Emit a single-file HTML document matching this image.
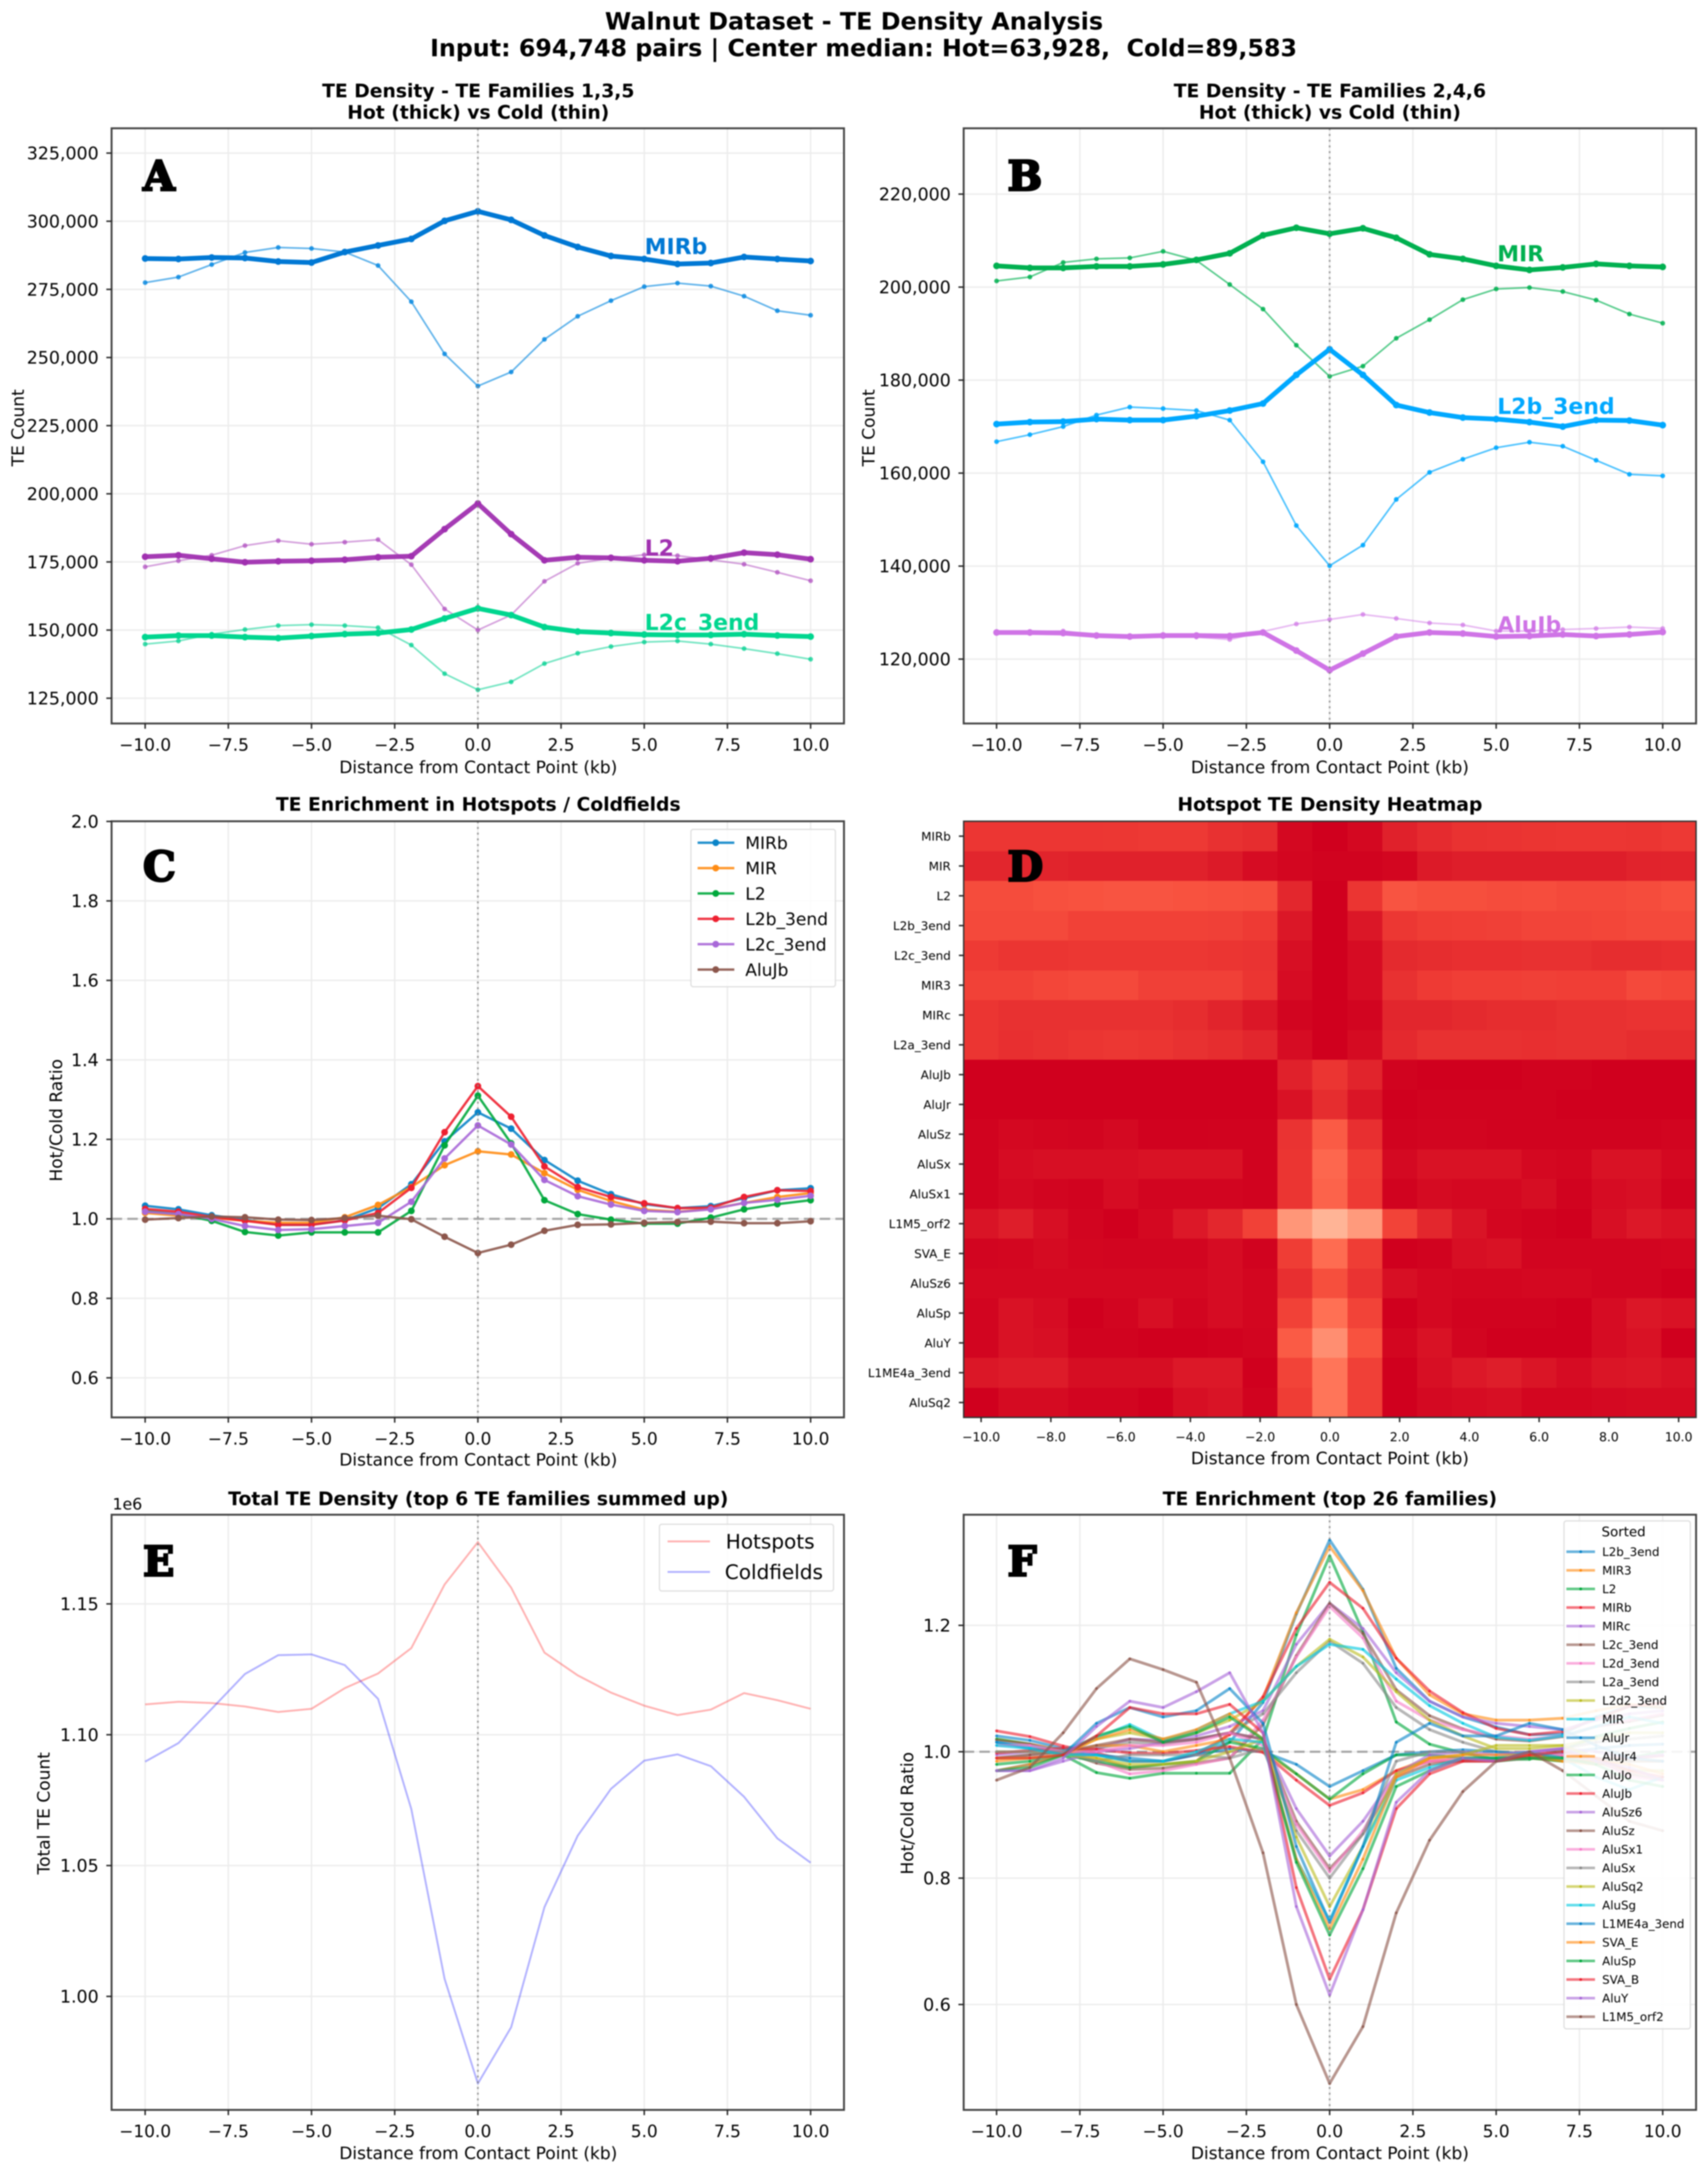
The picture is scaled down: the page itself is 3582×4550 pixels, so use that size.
<!DOCTYPE html>
<html lang="en">
<head>
<meta charset="utf-8">
<title>Walnut Dataset - TE Density Analysis</title>
<style>
html,body{margin:0;padding:0;background:#fff;}
#figure{display:block;width:3582px;height:4550px;filter:blur(1.4px);font-family:"DejaVu Sans","Liberation Sans",sans-serif;fill:#000;}
.sup{font-size:50px;font-weight:bold;text-anchor:middle;}
.ttl{font-size:39.3px;font-weight:bold;text-anchor:middle;}
.lbl{font-size:35.7px;text-anchor:middle;}
.let{font-family:"DejaVu Serif","Liberation Serif",serif;font-weight:bold;font-size:86px;stroke:#000;stroke-width:4.5px;}
.anno{font-size:46px;font-weight:bold;}
</style>
</head>
<body>
<svg id="figure" xmlns="http://www.w3.org/2000/svg" width="3582" height="4550" viewBox="0 0 3582 4550">
  <rect x="0" y="0" width="3582" height="4550" fill="#fff"/>
  <text class="sup" x="1791" y="62">Walnut Dataset - TE Density Analysis</text>
  <text class="sup" x="1811" y="118" font-size="49.8" style="font-size:49.8px" xml:space="preserve">Input: 694,748 pairs | Center median: Hot=63,928,  Cold=89,583</text>

  <g id="layer-a"></g>
  <g id="layer-b"></g>
  <g id="layer-c"></g>
  <g id="layer-d"></g>
  <g id="layer-e"></g>
  <g id="layer-f"></g>

  <text class="ttl" x="1003" y="204">TE Density - TE Families 1,3,5</text>
  <text class="ttl" x="1003" y="249">Hot (thick) vs Cold (thin)</text>
  <text class="ttl" x="2789" y="204">TE Density - TE Families 2,4,6</text>
  <text class="ttl" x="2789" y="249">Hot (thick) vs Cold (thin)</text>
  <text class="ttl" x="1003" y="1700">TE Enrichment in Hotspots / Coldfields</text>
  <text class="ttl" x="2789" y="1700">Hotspot TE Density Heatmap</text>
  <text class="ttl" x="1003" y="3156">Total TE Density (top 6 TE families summed up)</text>
  <text class="ttl" x="2789" y="3156">TE Enrichment (top 26 families)</text>

  <text class="lbl" x="1003" y="1621">Distance from Contact Point (kb)</text>
  <text class="lbl" x="2789" y="1621">Distance from Contact Point (kb)</text>
  <text class="lbl" x="1003" y="3073">Distance from Contact Point (kb)</text>
  <text class="lbl" x="2789" y="3070">Distance from Contact Point (kb)</text>
  <text class="lbl" x="1003" y="4527">Distance from Contact Point (kb)</text>
  <text class="lbl" x="2789" y="4527">Distance from Contact Point (kb)</text>

  <text class="lbl" transform="translate(50,897) rotate(-90)">TE Count</text>
  <text class="lbl" transform="translate(1834,897) rotate(-90)">TE Count</text>
  <text class="lbl" transform="translate(130,2349) rotate(-90)">Hot/Cold Ratio</text>
  <text class="lbl" transform="translate(104,3802) rotate(-90)">Total TE Count</text>
  <text class="lbl" transform="translate(1915,3802) rotate(-90)">Hot/Cold Ratio</text>
  <text x="236" y="3165" font-size="33">1e6</text>

  <text class="anno" x="1352" y="533" fill="#0078d4">MIRb</text>
  <text class="anno" x="1352" y="1165" fill="#a030b0">L2</text>
  <text class="anno" x="1352" y="1321" fill="#00d68f">L2c_3end</text>
  <text class="anno" x="3140" y="548" fill="#00b050">MIR</text>
  <text class="anno" x="3140" y="868" fill="#00a8ff">L2b_3end</text>
  <text class="anno" x="3140" y="1326" fill="#cf74e6">AluJb</text>

  <text class="let" x="300" y="399">A</text>
  <text class="let" x="2113" y="399">B</text>
  <text class="let" x="300" y="1847">C</text>
  <text class="let" x="2113" y="1847">D</text>
  <text class="let" x="300" y="3304">E</text>
  <text class="let" x="2113" y="3304">F</text>
</svg>

<script>
// ---------- shared categories ----------
const distanceKb = [-10,-9,-8,-7,-6,-5,-4,-3,-2,-1,0,1,2,3,4,5,6,7,8,9,10];
const lineXTicks = [-10,-7.5,-5,-2.5,0,2.5,5,7.5,10];
const heatXTicks = [-10,-8,-6,-4,-2,0,2,4,6,8,10];

// ---------- panel A ----------
const aYTicks = [125000,150000,175000,200000,225000,250000,275000,300000,325000];
const mirbHot = [286320,286140,286690,286500,285210,284840,288700,291100,293500,300130,303630,300500,294790,290550,287240,286140,284300,284660,286870,286140,285400];
const mirbCold = [277480,279500,284100,288530,290370,290000,288700,283740,270480,251320,239530,244690,256660,265130,270850,276000,277300,276190,272500,267160,265500];
const l2Hot = [176900,177450,176170,174880,175250,175430,175800,176720,177100,187030,196430,185200,175600,176700,176500,175600,175250,176350,178400,177650,176000];
const l2Cold = [173200,175430,177450,181000,182800,181500,182250,183170,174000,157750,150000,155530,167880,174500,176350,177600,177300,175800,174150,171200,168100];
const l2cHot = [147420,147980,147980,147420,147050,147800,148520,148900,150200,154250,157950,155500,151100,149450,148900,148350,148200,148200,148500,148000,147600];
const l2cCold = [144850,146000,148500,150200,151650,152000,151650,150900,144500,134000,128100,131000,137700,141500,143950,145600,146000,144850,143200,141350,139300];

// ---------- panel B ----------
const bYTicks = [120000,140000,160000,180000,200000,220000];
const mirHot = [204560,204120,204120,204450,204450,204880,205850,207260,211140,212760,211470,212650,210600,207040,206070,204560,203690,204230,205000,204560,204340];
const mirCold = [201320,202180,205300,206070,206280,207690,205750,200560,195270,187500,180800,183000,189000,193000,197300,199600,199900,199050,197200,194200,192240];
const l2bHot = [170540,170970,171080,171620,171400,171400,172260,173450,174960,181120,186630,181120,174640,173020,171940,171620,170970,170000,171400,171300,170320];
const l2bCold = [166760,168270,170000,172480,174200,173880,173450,171400,162440,148720,140080,144510,154340,160170,162980,165460,166650,165780,162760,159740,159410];
const alujbHot = [125720,125720,125600,125070,124850,125070,125070,124960,125720,121830,117620,121180,124850,125720,125500,124850,124960,125290,124960,125290,125820];
const alujbCold = [125930,125930,126040,125180,124850,125290,124750,124200,125930,127550,128520,129600,128740,127770,127340,126040,126040,126360,126580,126900,126580];

// ---------- panel C ----------
const cYTicks = [0.6,0.8,1.0,1.2,1.4,1.6,1.8,2.0];
const ratioMIRb = [1.033,1.024,1.009,0.998,0.985,0.985,0.996,1.027,1.087,1.195,1.268,1.227,1.148,1.096,1.062,1.037,1.027,1.032,1.052,1.072,1.077];
const ratioMIR = [1.015,1.008,1.003,0.995,0.99,0.99,1.004,1.035,1.08,1.135,1.17,1.162,1.115,1.073,1.045,1.023,1.018,1.025,1.04,1.055,1.065];
const ratioL2 = [1.02,1.012,0.995,0.967,0.958,0.966,0.966,0.966,1.02,1.185,1.31,1.19,1.047,1.012,0.998,0.988,0.988,1.003,1.024,1.037,1.047];
const ratioL2b = [1.025,1.018,1.005,0.995,0.985,0.985,0.996,1.015,1.078,1.218,1.334,1.257,1.132,1.08,1.055,1.039,1.027,1.028,1.055,1.072,1.07];
const ratioL2c = [1.018,1.012,1.0,0.982,0.972,0.974,0.982,0.99,1.043,1.152,1.235,1.187,1.098,1.057,1.036,1.02,1.017,1.024,1.04,1.048,1.058];
const ratioAluJb = [0.998,1.002,1.006,1.004,0.998,0.997,1.002,1.008,0.999,0.955,0.914,0.935,0.97,0.985,0.986,0.99,0.992,0.993,0.989,0.989,0.994];

// ---------- panel D ----------
const heatRowLabels = ['MIRb','MIR','L2','L2b_3end','L2c_3end','MIR3','MIRc','L2a_3end','AluJb','AluJr','AluSz','AluSx','AluSx1','L1M5_orf2','SVA_E','AluSz6','AluSp','AluY','L1ME4a_3end','AluSq2'];
const heatValues = [
 [.37,.37,.37,.37,.38,.39,.39,.33,.30,.05,0,.05,.22,.29,.34,.35,.36,.37,.37,.36,.39],
 [.25,.25,.24,.22,.22,.22,.22,.17,.08,.04,.02,.02,.04,.17,.2,.2,.2,.2,.2,.23,.24],
 [.52,.52,.55,.56,.57,.57,.56,.55,.54,.26,0,.36,.57,.54,.54,.52,.53,.5,.5,.52,.55],
 [.50,.50,.50,.45,.45,.45,.45,.44,.40,.15,0,.15,.38,.42,.43,.44,.47,.47,.48,.5,.5],
 [.40,.36,.36,.38,.38,.38,.38,.36,.35,.1,0,.08,.28,.3,.32,.32,.33,.33,.3,.3,.32],
 [.45,.45,.48,.50,.50,.44,.44,.44,.36,.08,0,.08,.33,.4,.43,.43,.44,.43,.43,.5,.48],
 [.36,.33,.33,.33,.33,.33,.3,.24,.15,.03,0,.03,.25,.25,.28,.3,.3,.33,.33,.35,.35],
 [.36,.32,.34,.36,.38,.36,.33,.3,.25,.08,0,.07,.27,.33,.33,.33,.32,.33,.33,.3,.3],
 [0,0,0,0,0,0,0,0,0,.22,.36,.24,.02,0,0,0,.02,.02,0,0,0],
 [0,0,0,0,0,0,0,0,0,.12,.3,.14,0,.02,.02,.02,.02,0,0,0,0],
 [.02,.05,.04,.03,.06,.01,.01,.02,.02,.35,.6,.32,.02,.03,.03,.02,.02,.02,.02,.02,.03],
 [.02,.08,.1,.1,.1,.12,.12,.12,.02,.36,.66,.42,.06,.12,.12,.12,.05,.04,.12,.12,.05],
 [.02,.06,.03,.02,.08,.03,.03,.03,.02,.36,.64,.4,.02,.07,.05,.05,.09,.02,.08,.1,.02],
 [.13,.2,.1,.03,0,.05,.16,.26,.45,.85,1,.87,.46,.26,.13,.04,.02,0,.1,.16,.12],
 [.03,.04,.07,.04,.03,.03,.03,.08,.02,.42,.68,.42,0,.02,.1,.12,.03,.03,.03,.03,.04],
 [.05,.05,.05,.05,.05,.05,.05,.08,.04,.32,.54,.35,.1,.05,.04,.04,.05,.05,.03,.03,0],
 [.03,.12,.08,0,.03,.1,.03,.08,.04,.45,.7,.46,0,.05,.02,.02,.02,0,.08,.15,.12],
 [.03,.12,.1,.02,.02,0,0,.01,.03,.6,.82,.56,.04,.12,.03,0,0,0,.08,.12,0],
 [.15,.18,.18,.09,.09,.09,.16,.16,0,.46,.72,.44,0,.1,.16,.2,.14,.08,.14,.15,.11],
 [0,.07,.07,.03,.03,0,.1,.13,.02,.42,.72,.44,0,.06,.08,.1,.04,.04,.06,.07,.07]
];

// ---------- panel E ----------
const eYTicks = [1.00,1.05,1.10,1.15];
const totalHot = [1.1116,1.1126,1.1121,1.1108,1.1087,1.1099,1.1178,1.1234,1.1331,1.1574,1.1736,1.1562,1.1314,1.1227,1.1161,1.1111,1.1075,1.1096,1.1159,1.1132,1.1099];
const totalCold = [1.0897,1.0968,1.1099,1.1232,1.1304,1.1307,1.1266,1.1137,1.0716,1.0067,0.9667,0.9882,1.0341,1.0614,1.0793,1.0901,1.0925,1.0880,1.0763,1.0604,1.0511];

// ---------- panel F ----------
const fYTicks = [0.6,0.8,1.0,1.2];
const fL2b = [1.025,1.018,1.005,0.995,0.985,0.985,0.996,1.015,1.078,1.218,1.335,1.257,1.132,1.08,1.055,1.039,1.027,1.028,1.055,1.072,1.07];
const fMIR3 = [1.02,1.012,1.002,0.99,0.975,0.98,0.985,1.03,1.085,1.22,1.325,1.255,1.148,1.09,1.06,1.05,1.05,1.053,1.065,1.075,1.07];
const fL2 = [1.02,1.012,0.995,0.967,0.958,0.966,0.966,0.966,1.02,1.185,1.31,1.19,1.047,1.012,0.998,0.988,0.988,1.003,1.024,1.037,1.047];
const fMIRb = [1.033,1.024,1.009,0.998,0.985,0.985,0.996,1.027,1.087,1.195,1.268,1.227,1.148,1.096,1.062,1.037,1.027,1.032,1.052,1.072,1.077];
const fMIRc = [0.995,1.0,0.998,1.005,1.02,1.018,1.025,1.04,1.065,1.17,1.235,1.195,1.125,1.08,1.055,1.045,1.04,1.035,1.05,1.06,1.065];
const fL2c = [1.018,1.012,1.0,0.982,0.972,0.974,0.982,0.99,1.043,1.152,1.235,1.187,1.098,1.057,1.036,1.02,1.017,1.024,1.04,1.048,1.058];
const fL2d = [1.015,1.01,1.0,0.985,0.965,0.97,0.98,0.99,1.05,1.15,1.23,1.18,1.08,1.05,1.035,1.025,1.02,1.025,1.04,1.05,1.06];
const fL2a = [0.99,0.995,1.0,1.005,1.015,1.012,1.02,1.03,1.06,1.125,1.175,1.14,1.07,1.035,1.015,1.0,0.998,1.005,1.015,1.02,1.025];
const fL2d2 = [1.0,1.0,0.998,1.02,1.03,1.02,1.03,1.05,1.08,1.135,1.178,1.15,1.095,1.05,1.025,1.005,1.005,1.01,1.02,1.03,1.03];
const fMIR = [1.015,1.008,1.003,1.022,1.043,1.018,1.034,1.06,1.08,1.135,1.17,1.162,1.115,1.073,1.045,1.023,1.018,1.025,1.04,1.055,1.045];
const fAluJr = [1.015,1.005,0.998,0.995,0.99,0.985,0.995,1.005,1.0,0.98,0.945,0.97,0.995,1.0,1.003,1.0,0.995,0.998,1.005,1.01,1.012];
const fAluJr4 = [0.985,0.99,0.995,1.01,1.01,1.0,1.01,1.02,1.0,0.965,0.925,0.94,0.97,0.99,0.99,0.985,0.99,0.985,0.98,0.985,0.985];
const fAluJo = [0.98,0.985,0.995,0.985,0.975,0.98,0.985,1.015,1.005,0.965,0.925,0.965,0.995,0.995,0.99,0.985,0.99,0.985,0.985,0.99,1.0];
const fAluJb = [0.998,1.002,1.006,1.004,0.998,0.997,1.002,1.008,0.999,0.955,0.915,0.935,0.97,0.985,0.986,0.99,0.992,0.993,0.989,0.989,0.994];
const fAluSz6 = [0.97,0.97,0.985,1.0,1.005,1.015,1.02,1.03,1.02,0.91,0.835,0.89,0.965,0.995,1.0,0.995,1.0,1.005,1.0,0.99,0.995];
const fAluSz = [0.99,0.995,1.0,1.01,1.02,1.015,1.02,1.03,1.02,0.89,0.815,0.87,0.96,0.98,0.985,0.985,0.995,0.99,0.985,0.965,0.955];
const fAluSx1 = [1.01,1.01,1.0,1.0,1.01,1.01,1.015,1.03,1.01,0.885,0.81,0.875,0.965,0.985,0.99,0.985,1.0,0.995,0.99,0.96,0.955];
const fAluSx = [1.0,1.0,1.0,0.985,0.995,0.995,0.995,0.99,1.005,0.875,0.80,0.87,0.985,1.0,1.0,0.985,0.99,0.99,0.99,0.985,0.985];
const fAluSq2 = [0.99,0.99,0.995,0.99,0.98,0.98,0.985,1.0,1.02,0.865,0.755,0.85,0.965,0.99,0.995,1.01,1.01,1.01,0.99,0.97,0.97];
const fAluSg = [1.01,1.005,0.995,0.995,0.985,0.985,1.0,1.02,1.015,0.83,0.733,0.85,0.955,0.975,0.99,0.99,1.0,0.99,0.96,0.94,0.96];
const fL1ME4a = [0.97,0.98,0.995,1.045,1.07,1.055,1.065,1.10,1.045,0.85,0.73,0.85,1.015,1.045,1.025,1.025,1.045,1.035,1.01,0.99,0.985];
const fSVAE = [0.97,0.98,0.995,1.02,1.035,1.02,1.035,1.06,1.02,0.83,0.72,0.83,0.96,0.99,0.995,0.995,0.995,0.985,0.985,0.98,0.965];
const fAluSp = [0.97,0.975,0.995,1.025,1.04,1.015,1.03,1.055,1.02,0.825,0.71,0.815,0.945,0.97,0.99,0.99,0.99,0.99,0.98,0.955,0.945];
const fSVAB = [0.99,0.99,0.995,1.025,1.07,1.06,1.06,1.075,1.03,0.785,0.64,0.75,0.91,0.965,0.985,0.985,0.995,1.0,0.99,0.97,0.96];
const fAluY = [0.97,0.97,0.99,1.04,1.08,1.07,1.095,1.125,1.03,0.755,0.615,0.75,0.92,0.97,0.99,0.985,1.0,1.005,0.985,0.975,0.955];
const fL1M5 = [0.955,0.975,1.03,1.10,1.147,1.13,1.11,0.99,0.84,0.60,0.475,0.565,0.745,0.86,0.937,0.985,1.0,0.97,0.93,0.89,0.875];
const fFamilyNames = ['L2b_3end','MIR3','L2','MIRb','MIRc','L2c_3end','L2d_3end','L2a_3end','L2d2_3end','MIR','AluJr','AluJr4','AluJo','AluJb','AluSz6','AluSz','AluSx1','AluSx','AluSq2','AluSg','L1ME4a_3end','SVA_E','AluSp','SVA_B','AluY','L1M5_orf2'];
const fFamilyValues = [fL2b,fMIR3,fL2,fMIRb,fMIRc,fL2c,fL2d,fL2a,fL2d2,fMIR,fAluJr,fAluJr4,fAluJo,fAluJb,fAluSz6,fAluSz,fAluSx1,fAluSx,fAluSq2,fAluSg,fL1ME4a,fSVAE,fAluSp,fSVAB,fAluY,fL1M5];

// ---------- helpers ----------
const NS = 'http://www.w3.org/2000/svg';
const palette = ['#0a84c8','#ff8c14','#00a83c','#ee2030','#a868d8','#8c564b','#f77cc8','#8a8a8a','#bcbd22','#00c8e0'];
function linear(d0, d1, r0, r1) { return v => r0 + (v - d0) * (r1 - r0) / (d1 - d0); }
function svgEl(parent, tag, attrs) {
  const el = document.createElementNS(NS, tag);
  for (const k in attrs) el.setAttribute(k, attrs[k]);
  parent.appendChild(el);
  return el;
}
function kbLabel(v) { return (v < 0 ? '\u2212' : '') + Math.abs(v).toFixed(1); }

function drawFrame(g, box, xs, ys, yTicks) {
  lineXTicks.forEach(t => {
    const gl = svgEl(g, 'line', {x1: xs(t), x2: xs(t), y1: box.T, y2: box.B, stroke: '#ececec', 'stroke-width': 3});
    
    
  });
  yTicks.forEach(t => {
    const gl = svgEl(g, 'line', {x1: box.L, x2: box.R, y1: ys(t), y2: ys(t), stroke: '#ececec', 'stroke-width': 3});
    
    
  });
}
function drawAxes(g, box, xs, ys, yTicks, yFormat) {
  const spine = svgEl(g, 'rect', {x: box.L, y: box.T, width: box.R - box.L, height: box.B - box.T, fill: 'none', stroke: '#444', 'stroke-width': 4});
  
  
  lineXTicks.forEach(t => {
    const tk = svgEl(g, 'line', {x1: xs(t), x2: xs(t), y1: box.B, y2: box.B + 11, stroke: '#222', 'stroke-width': 3});
    
    
    const tl = svgEl(g, 'text', {x: xs(t), y: box.B + 57, 'text-anchor': 'middle', 'font-size': 35.5});
    
    
    tl.textContent = kbLabel(t);
  });
  yTicks.forEach(t => {
    const tk = svgEl(g, 'line', {x1: box.L - 11, x2: box.L, y1: ys(t), y2: ys(t), stroke: '#222', 'stroke-width': 3});
    
    
    const tl = svgEl(g, 'text', {x: box.L - 27, y: ys(t) + 13, 'text-anchor': 'end', 'font-size': 36.5});
    
    
    tl.textContent = yFormat(t);
  });
}
function drawZeroLine(g, box, xs) {
  const z = svgEl(g, 'line', {x1: xs(0), x2: xs(0), y1: box.T, y2: box.B, stroke: '#888', 'stroke-width': 3.5, 'stroke-dasharray': '4 8', opacity: 0.85});
  
  
}
function drawUnityLine(g, box, ys) {
  const u = svgEl(g, 'line', {x1: box.L, x2: box.R, y1: ys(1), y2: ys(1), stroke: '#999', 'stroke-width': 4.5, 'stroke-dasharray': '22 11', opacity: 0.85});
  
  
}
function drawSeries(g, xs, ys, values, color, width, radius, opacity) {
  const pts = values.map((v, i) => xs(distanceKb[i]).toFixed(1) + ',' + ys(v).toFixed(1)).join(' ');
  const pl = svgEl(g, 'polyline', {points: pts, fill: 'none', stroke: color, 'stroke-width': width, 'stroke-linejoin': 'round', opacity: opacity});
  
  
  if (radius > 0) {
    values.forEach((v, i) => {
      const c = svgEl(g, 'circle', {cx: xs(distanceKb[i]), cy: ys(v), r: radius, fill: color, opacity: Math.min(1, opacity + 0.2)});
      
      
    });
  }
}

const xLeft = linear(-10, 10, 304.4, 1700);
const xRight = linear(-10, 10, 2090, 3487);
const boxL = {L: 234, R: 1770};
const boxR = {L: 2021, R: 3557};
const commaFmt = v => v.toLocaleString('en-US');

// ---------- Panel A ----------
(function () {
  const g = document.getElementById('layer-a');
  const box = {L: boxL.L, R: boxL.R, T: 269, B: 1517};
  const ys = linear(125000, 325000, 1464, 321);
  drawFrame(g, box, xLeft, ys, aYTicks);
  drawSeries(g, xLeft, ys, mirbCold, '#0a8ae0', 3.5, 5, 0.65);
  drawSeries(g, xLeft, ys, mirbHot, '#0078d4', 10, 7, 1);
  drawSeries(g, xLeft, ys, l2Cold, '#b050c0', 3.5, 5, 0.55);
  drawSeries(g, xLeft, ys, l2Hot, '#a030b0', 10, 7, 0.95);
  drawSeries(g, xLeft, ys, l2cCold, '#00d090', 3.5, 5, 0.55);
  drawSeries(g, xLeft, ys, l2cHot, '#00d68f', 10, 7, 1);
  drawZeroLine(g, box, xLeft);
  drawAxes(g, box, xLeft, ys, aYTicks, commaFmt);
})();

// ---------- Panel B ----------
(function () {
  const g = document.getElementById('layer-b');
  const box = {L: boxR.L, R: boxR.R, T: 269, B: 1517};
  const ys = linear(120000, 220000, 1382, 407);
  drawFrame(g, box, xRight, ys, bYTicks);
  drawSeries(g, xRight, ys, mirCold, '#00b050', 3.5, 5, 0.65);
  drawSeries(g, xRight, ys, mirHot, '#00b050', 10, 7, 1);
  drawSeries(g, xRight, ys, l2bCold, '#00a8ff', 3.5, 5, 0.7);
  drawSeries(g, xRight, ys, l2bHot, '#00a8ff', 10, 7, 1);
  drawSeries(g, xRight, ys, alujbCold, '#cf74e6', 3.5, 5, 0.5);
  drawSeries(g, xRight, ys, alujbHot, '#cf74e6', 10, 7, 1);
  drawZeroLine(g, box, xRight);
  drawAxes(g, box, xRight, ys, bYTicks, commaFmt);
})();

// ---------- Panel C ----------
(function () {
  const g = document.getElementById('layer-c');
  const box = {L: boxL.L, R: boxL.R, T: 1722, B: 2972};
  const ys = linear(0.6, 1.8, 2889, 1889);
  drawFrame(g, box, xLeft, ys, cYTicks);
  drawUnityLine(g, box, ys);
  const names = ['MIRb','MIR','L2','L2b_3end','L2c_3end','AluJb'];
  const sets = [ratioMIRb, ratioMIR, ratioL2, ratioL2b, ratioL2c, ratioAluJb];
  sets.forEach((vals, i) => drawSeries(g, xLeft, ys, vals, palette[i], 5, 7, 0.9));
  drawZeroLine(g, box, xLeft);
  drawAxes(g, box, xLeft, ys, cYTicks, v => v.toFixed(1));
  const lg = svgEl(g, 'g', {});
  
  
  const bg = svgEl(lg, 'rect', {x: 1449, y: 1739, width: 303, height: 330, rx: 5, fill: '#fff', 'fill-opacity': 0.85, stroke: '#ddd', 'stroke-width': 2.5});
  
  
  names.forEach((n, i) => {
    const y = 1767 + i * 53.2;
    const h = svgEl(lg, 'line', {x1: 1463, x2: 1540, y1: y, y2: y, stroke: palette[i], 'stroke-width': 5, opacity: 0.9});
    
    
    const d = svgEl(lg, 'circle', {cx: 1501, cy: y, r: 7, fill: palette[i]});
    
    
    const t = svgEl(lg, 'text', {x: 1563, y: y + 13, 'font-size': 35.8});
    
    
    t.textContent = n;
  });
})();

// ---------- Panel D ----------
const heatStops = [[0,208,0,30],[.25,226,38,45],[.4,238,58,52],[.55,247,80,62],[.7,255,112,84],[.85,255,150,120],[1,255,180,150]];
function heatColor(v) {
  for (let i = 1; i < heatStops.length; i++) {
    if (v <= heatStops[i][0]) {
      const a = heatStops[i - 1], b = heatStops[i], t = (v - a[0]) / (b[0] - a[0]);
      return 'rgb(' + [1, 2, 3].map(k => Math.round(a[k] + (b[k] - a[k]) * t)).join(',') + ')';
    }
  }
  return 'rgb(255,180,150)';
}
(function () {
  const g = document.getElementById('layer-d');
  const L = boxR.L, R = boxR.R, T = 1722, B = 2972;
  const colW = (R - L) / distanceKb.length;
  const rowH = (B - T) / heatRowLabels.length;
  heatValues.forEach((row, r) => {
    row.forEach((v, c) => {
      const x0 = Math.round(L + c * colW), x1 = Math.round(L + (c + 1) * colW);
      const y0 = Math.round(T + r * rowH), y1 = Math.round(T + (r + 1) * rowH);
      const cell = svgEl(g, 'rect', {x: x0, y: y0, width: x1 - x0, height: y1 - y0, fill: heatColor(v), 'shape-rendering': 'crispEdges'});
      
      
    });
  });
  const fr = svgEl(g, 'rect', {x: L, y: T, width: R - L, height: B - T, fill: 'none', stroke: '#333', 'stroke-width': 3});
  
  
  heatRowLabels.forEach((n, r) => {
    const y = T + (r + 0.5) * rowH;
    const tk = svgEl(g, 'line', {x1: L - 10, x2: L, y1: y, y2: y, stroke: '#222', 'stroke-width': 3});
    
    
    const t = svgEl(g, 'text', {x: 1994, y: y + 9, 'text-anchor': 'end', 'font-size': 25});
    
    
    t.textContent = n;
  });
  heatXTicks.forEach(v => {
    const x = L + (distanceKb.indexOf(v) + 0.5) * colW;
    const tk = svgEl(g, 'line', {x1: x, x2: x, y1: B, y2: B + 10, stroke: '#222', 'stroke-width': 3});
    
    
    const t = svgEl(g, 'text', {x: x, y: 3022, 'text-anchor': 'middle', 'font-size': 26});
    
    
    t.textContent = kbLabel(v);
  });
})();

// ---------- Panel E ----------
(function () {
  const g = document.getElementById('layer-e');
  const box = {L: boxL.L, R: boxL.R, T: 3176, B: 4424};
  const ys = linear(1.0, 1.15, 4186, 3363);
  drawFrame(g, box, xLeft, ys, eYTicks);
  drawSeries(g, xLeft, ys, totalHot, '#ff0000', 4, 0, 0.3);
  drawSeries(g, xLeft, ys, totalCold, '#0000ff', 4, 0, 0.3);
  drawZeroLine(g, box, xLeft);
  drawAxes(g, box, xLeft, ys, eYTicks, v => v.toFixed(2));
  const lg = svgEl(g, 'g', {});
  
  
  const bg = svgEl(lg, 'rect', {x: 1383, y: 3196, width: 365, height: 140, rx: 5, fill: '#fff', 'fill-opacity': 0.85, stroke: '#ddd', 'stroke-width': 2.5});
  
  
  const h1 = svgEl(lg, 'line', {x1: 1400, x2: 1489, y1: 3232, y2: 3232, stroke: '#ff0000', 'stroke-width': 4, opacity: 0.3});
  
  
  const t1 = svgEl(lg, 'text', {x: 1522, y: 3247, 'font-size': 42});
  
  
  t1.textContent = 'Hotspots';
  const h2 = svgEl(lg, 'line', {x1: 1400, x2: 1489, y1: 3296, y2: 3296, stroke: '#0000ff', 'stroke-width': 4, opacity: 0.3});
  
  
  const t2 = svgEl(lg, 'text', {x: 1520, y: 3311, 'font-size': 42});
  
  
  t2.textContent = 'Coldfields';
})();

// ---------- Panel F ----------
(function () {
  const g = document.getElementById('layer-f');
  const box = {L: boxR.L, R: boxR.R, T: 3176, B: 4424};
  const ys = linear(0.6, 1.2, 4203, 3408);
  drawFrame(g, box, xRight, ys, fYTicks);
  drawUnityLine(g, box, ys);
  fFamilyValues.forEach((vals, i) => drawSeries(g, xRight, ys, vals, palette[i % 10], 6, 3, 0.62));
  drawZeroLine(g, box, xRight);
  drawAxes(g, box, xRight, ys, fYTicks, v => v.toFixed(1));
  const lg = svgEl(g, 'g', {});
  
  
  const bg = svgEl(lg, 'rect', {x: 3280, y: 3189, width: 265, height: 1065, rx: 5, fill: '#fff', 'fill-opacity': 0.88, stroke: '#ddd', 'stroke-width': 2.5});
  
  
  const lt = svgEl(lg, 'text', {x: 3405, y: 3221, 'text-anchor': 'middle', 'font-size': 28});
  
  
  lt.textContent = 'Sorted';
  fFamilyNames.forEach((n, i) => {
    const y = 3253.6 + i * 39;
    const h = svgEl(lg, 'line', {x1: 3285, x2: 3345, y1: y, y2: y, stroke: palette[i % 10], 'stroke-width': 5.5, opacity: 0.62});
    
    
    const d = svgEl(lg, 'circle', {cx: 3315, cy: y, r: 3, fill: palette[i % 10]});
    
    
    const t = svgEl(lg, 'text', {x: 3360, y: y + 9, 'font-size': 24.8});
    
    
    t.textContent = n;
  });
})();
</script>
</body>
</html>
